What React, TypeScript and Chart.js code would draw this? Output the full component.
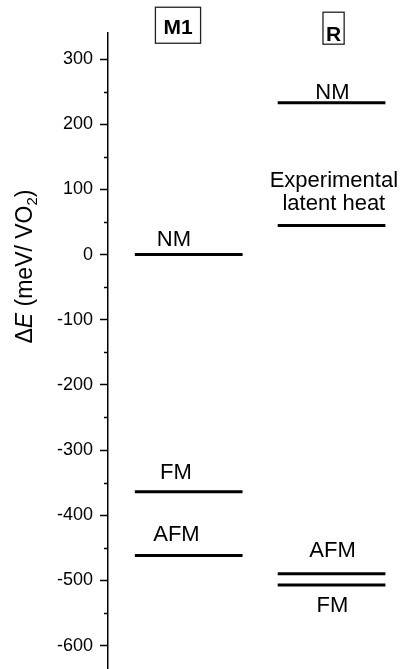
import React, { useEffect, useRef } from 'react';
import { Chart, registerables } from 'chart.js';

Chart.register(...registerables);

// ---- data ----
const columns = ['M1', 'R'];
const columnX = [1, 2];
const m1Names = ['NM', 'FM', 'AFM'];
const m1Energies = [0, -364, -462];
const rNames = ['NM', 'Experimental latent heat', 'AFM', 'FM'];
const rEnergies = [233, 44.5, -490, -507];
const yMin = -636;
const yMax = 340;
const majorStep = 100;
const minorStep = 50;

// annotation anchors (data units: x = column axis, y = energy of text baseline)
const levelLabels = [
  { lines: ['NM'], x: 0.896, y: 12.7 },
  { lines: ['FM'], x: 0.91, y: -344 },
  { lines: ['AFM'], x: 0.914, y: -439 },
  { lines: ['NM'], x: 2.006, y: 239 },
  { lines: ['Experimental', 'latent heat'], x: 2.016, y: 103.3 },
  { lines: ['AFM'], x: 2.007, y: -463.5 },
  { lines: ['FM'], x: 2.006, y: -548 },
];
const headerBoxes = [
  { text: columns[0], x: 0.925, y: 338.1, padX: 8, padTop: 12, padBottom: 9 },
  { text: columns[1], x: 2.014, y: 327.4, padX: 3, padTop: 14, padBottom: 3 },
];

const HALF_WIDTH = 0.377;
const FONT = '"Liberation Sans", Arial, sans-serif';

function levelDatasets() {
  const sets: any[] = [];
  const add = (cx: number, e: number) => {
    sets.push({
      data: [
        { x: cx - HALF_WIDTH, y: e },
        { x: cx + HALF_WIDTH, y: e },
      ],
      borderColor: '#000',
      borderWidth: 3,
      pointRadius: 0,
      fill: false,
      showLine: true,
    });
  };
  m1Energies.forEach((e) => add(columnX[0], e));
  rEnergies.forEach((e) => add(columnX[1], e));
  return sets;
}

const annotPlugin = {
  id: 'annot',
  afterDraw(chart: any) {
    const { ctx, chartArea } = chart;
    const xs = chart.scales.x;
    const ys = chart.scales.y;
    ctx.save();
    // minor ticks
    ctx.strokeStyle = '#000';
    ctx.lineWidth = 1.5;
    for (let v = Math.ceil(yMin / minorStep) * minorStep; v <= yMax; v += minorStep) {
      if (v % majorStep === 0) continue;
      const py = Math.round(ys.getPixelForValue(v)) + 0.5;
      ctx.beginPath();
      ctx.moveTo(chartArea.left - 4, py);
      ctx.lineTo(chartArea.left, py);
      ctx.stroke();
    }
    // level labels
    ctx.fillStyle = '#000';
    ctx.font = `22px ${FONT}`;
    ctx.textAlign = 'center';
    ctx.textBaseline = 'alphabetic';
    levelLabels.forEach((l) => {
      const px = xs.getPixelForValue(l.x);
      const py = ys.getPixelForValue(l.y);
      l.lines.forEach((t, i) => {
        ctx.fillText(t, px, py + i * 22.3);
      });
    });
    // header boxes
    ctx.font = `bold 21px ${FONT}`;
    headerBoxes.forEach((b) => {
      const px = xs.getPixelForValue(b.x);
      const py = ys.getPixelForValue(b.y);
      const w = ctx.measureText(b.text).width;
      const cap = 15;
      ctx.fillText(b.text, px, py);
      ctx.strokeStyle = '#222';
      ctx.lineWidth = 1.3;
      ctx.strokeRect(px - w / 2 - b.padX, py - cap - b.padTop, w + 2 * b.padX, cap + b.padTop + b.padBottom);
    });
    // y axis title: ΔE (meV/ VO2)
    const parts = [
      { t: 'Δ', f: `23px ${FONT}`, dy: 0 },
      { t: 'E', f: `italic 23px ${FONT}`, dy: 0 },
      { t: ' (meV/ VO', f: `23px ${FONT}`, dy: 0 },
      { t: '2', f: `15px ${FONT}`, dy: 5 },
      { t: ')', f: `23px ${FONT}`, dy: 0 },
    ];
    let total = 0;
    parts.forEach((p) => {
      ctx.font = p.f;
      total += ctx.measureText(p.t).width;
    });
    const cy = ys.getPixelForValue(-18.4);
    ctx.translate(chartArea.left - 76, cy);
    ctx.rotate(-Math.PI / 2);
    ctx.textAlign = 'left';
    let xCur = -total / 2;
    parts.forEach((p) => {
      ctx.font = p.f;
      ctx.fillText(p.t, xCur, p.dy);
      xCur += ctx.measureText(p.t).width;
    });
    ctx.restore();
  },
};

export default function App() {
  const ref = useRef<HTMLCanvasElement | null>(null);
  useEffect(() => {
    if (!ref.current) return;
    const chart = new Chart(ref.current, {
      type: 'line',
      data: { datasets: levelDatasets() },
      options: {
        animation: false,
        responsive: true,
        maintainAspectRatio: false,
        layout: { padding: { top: 33, bottom: 0, left: 0, right: 0 } },
        plugins: { legend: { display: false }, tooltip: { enabled: false }, title: { display: false } },
        elements: { line: { tension: 0, borderCapStyle: 'butt' } },
        scales: {
          x: { type: 'linear', min: 0.435, max: 2.493, display: false },
          y: {
            type: 'linear',
            min: yMin,
            max: yMax,
            border: { display: true, color: '#000', width: 1.5 },
            grid: {
              drawOnChartArea: false,
              drawTicks: true,
              tickLength: 8,
              tickWidth: 1.5,
              tickColor: (c: any) => (c.tick && c.tick.value % majorStep === 0 ? '#000' : 'rgba(0,0,0,0)'),
            },
            ticks: {
              stepSize: minorStep,
              includeBounds: false,
              autoSkip: false,
              padding: 7,
              color: '#000',
              font: { family: FONT, size: 18 },
              callback: (v: any) => (Number(v) % majorStep === 0 ? String(v) : ''),
            },
            afterFit: (s: any) => {
              s.width = 108;
              s.paddingTop = 0;
              s.paddingBottom = 0;
            },
          },
        },
      } as any,
      plugins: [annotPlugin],
    });
    return () => chart.destroy();
  }, []);
  return (
    <div style={{ position: 'fixed', left: 0, top: 0, width: 402, height: 669, background: '#fff' }}>
      <canvas ref={ref} />
    </div>
  );
}
